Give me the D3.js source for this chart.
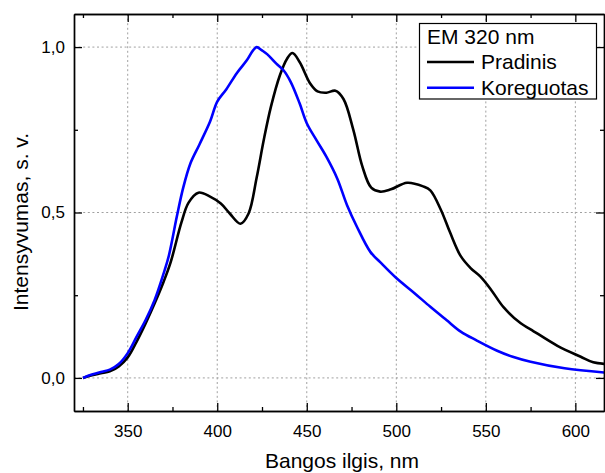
<!DOCTYPE html>
<html>
<head>
<meta charset="utf-8">
<script src="https://cdn.jsdelivr.net/npm/d3@7"></script>
<style>
  body { margin: 0; background: #fff; }
  svg { display: block; font-family: "Liberation Sans", Arial, sans-serif; }
</style>
</head>
<body>
<svg id="chart" width="605" height="473"></svg>
<script>
// ---- data ----
const wavelengthsPradinis = [325,330,335,340,345,350,355,360,365,370,374,380,384,389.5,396,402,407,413,417.5,422,426,430,435,439,442,446,452,456,461,466,470.5,476,481,486,491,497,506,515,519,525,530,536,541.5,547,553,560,569.5,575,590,603,610,617];
const valuesPradinis =      [0,0.008,0.014,0.02,0.035,0.062,0.11,0.165,0.225,0.29,0.35,0.47,0.53,0.56,0.548,0.527,0.497,0.466,0.497,0.605,0.72,0.82,0.915,0.965,0.982,0.955,0.889,0.866,0.862,0.868,0.843,0.75,0.64,0.575,0.563,0.57,0.59,0.579,0.567,0.507,0.44,0.368,0.332,0.306,0.266,0.213,0.165,0.147,0.097,0.064,0.047,0.042];

const wavelengthsKoreguotas = [325,330,335,340,345,350,355,360,365,370,373,377.4,381,385,390,396,400,405,411,416.5,420,422,425,428,433,437,441,446,450,455.5,461,467,472.5,478,485.5,491,500,510,519,528,536,545,556,565,575,594,617];
const valuesKoreguotas =      [0,0.01,0.018,0.025,0.042,0.075,0.125,0.175,0.235,0.315,0.37,0.487,0.575,0.648,0.705,0.775,0.835,0.872,0.922,0.96,0.99,1.0,0.99,0.978,0.95,0.93,0.895,0.83,0.77,0.718,0.668,0.603,0.522,0.457,0.381,0.35,0.302,0.257,0.215,0.175,0.14,0.113,0.083,0.064,0.049,0.029,0.016];

const xMajorTicks = [350,400,450,500,550,600];
const xMinorTicks = [325,375,425,475,525,575];
const yMajorTicks = [0,0.5,1.0];
const yMinorTicks = [0.25,0.75];
const yTickLabels = ["0,0","0,5","1,0"];

const seriesNames = ["Pradinis","Koreguotas"];
const seriesColors = ["#000000","#0000ff"];
const legendTitle = "EM 320 nm";
const xTitle = "Bangos ilgis, nm";
const yTitle = "Intensyvumas, s. v.";

// ---- layout ----
const L = 74, T = 14, R = 604, B = 411;
const svg = d3.select("#chart");
const x = d3.scaleLinear().domain([320, 616]).range([L, R]);
const y = d3.scaleLinear().domain([-0.1, 1.1]).range([B, T]);

// grid
const grid = svg.append("g").attr("stroke", "#a0a0a0").attr("stroke-width", 1).attr("stroke-dasharray", "2,2.6");
xMajorTicks.forEach(t => grid.append("line").attr("x1", x(t)).attr("x2", x(t)).attr("y1", T).attr("y2", B));
yMajorTicks.forEach(t => grid.append("line").attr("y1", y(t)).attr("y2", y(t)).attr("x1", L).attr("x2", R));

// clip
svg.append("clipPath").attr("id", "clip").append("rect").attr("x", L).attr("y", T).attr("width", R - L).attr("height", B - T);

const line = d3.line().x(d => x(d[0])).y(d => y(d[1])).curve(d3.curveCatmullRom.alpha(0.5));
const dataP = wavelengthsPradinis.map((w, i) => [w, valuesPradinis[i]]);
const dataK = wavelengthsKoreguotas.map((w, i) => [w, valuesKoreguotas[i]]);

const curves = svg.append("g").attr("clip-path", "url(#clip)");
curves.append("path").datum(dataP).attr("d", line).attr("fill", "none").attr("stroke", seriesColors[0]).attr("stroke-width", 2.6).attr("stroke-linejoin", "round");
curves.append("path").datum(dataK).attr("d", line).attr("fill", "none").attr("stroke", seriesColors[1]).attr("stroke-width", 2.6).attr("stroke-linejoin", "round");

// axes (ticks inside, mirrored)
const fmt = (d) => yTickLabels[yMajorTicks.indexOf(d)];
const axB = d3.axisBottom(x).tickValues(xMajorTicks).tickSizeInner(-8).tickSizeOuter(0).tickPadding(14).tickFormat(d3.format("d"));
const axBm = d3.axisBottom(x).tickValues(xMinorTicks).tickSizeInner(-4).tickSizeOuter(0).tickFormat("");
const axT = d3.axisTop(x).tickValues(xMajorTicks).tickSizeInner(-8).tickSizeOuter(0).tickFormat("");
const axTm = d3.axisTop(x).tickValues(xMinorTicks).tickSizeInner(-4).tickSizeOuter(0).tickFormat("");
const axL = d3.axisLeft(y).tickValues(yMajorTicks).tickSizeInner(-8).tickSizeOuter(0).tickPadding(9).tickFormat(fmt);
const axLm = d3.axisLeft(y).tickValues(yMinorTicks).tickSizeInner(-4).tickSizeOuter(0).tickFormat("");
const axR = d3.axisRight(y).tickValues(yMajorTicks).tickSizeInner(-8).tickSizeOuter(0).tickFormat("");
const axRm = d3.axisRight(y).tickValues(yMinorTicks).tickSizeInner(-4).tickSizeOuter(0).tickFormat("");

function styleAxis(g) {
  g.selectAll("path").attr("stroke", "#000").attr("stroke-width", 1.4);
  g.selectAll("line").attr("stroke", "#000").attr("stroke-width", 1.3);
  g.selectAll("text").attr("fill", "#000").style("font-size", "17px").style("font-family", "'Liberation Sans', Arial, sans-serif");
}
[[axB, `translate(0,${B})`], [axBm, `translate(0,${B})`], [axT, `translate(0,${T})`], [axTm, `translate(0,${T})`],
 [axL, `translate(${L},0)`], [axLm, `translate(${L},0)`], [axR, `translate(${R},0)`], [axRm, `translate(${R},0)`]]
 .forEach(([a, tr]) => svg.append("g").attr("transform", tr).call(a).call(styleAxis));

// titles
svg.append("text").attr("x", 342).attr("y", 468).attr("text-anchor", "middle").style("font-size", "21px").text(xTitle);
svg.append("text").attr("transform", "translate(28,222) rotate(-90)").attr("text-anchor", "middle").style("font-size", "21px").text(yTitle);

// legend
const lg = svg.append("g");
lg.append("rect").attr("x", 419.5).attr("y", 23.5).attr("width", 177).attr("height", 75.5).attr("fill", "#fff").attr("stroke", "#000").attr("stroke-width", 1.2);
lg.append("text").attr("x", 427).attr("y", 43.5).style("font-size", "21px").text(legendTitle);
seriesNames.forEach((n, i) => {
  const yy = 62 + i * 25.7;
  lg.append("line").attr("x1", 427).attr("x2", 474).attr("y1", yy).attr("y2", yy).attr("stroke", seriesColors[i]).attr("stroke-width", 2.6);
  lg.append("text").attr("x", 481).attr("y", yy + 7).style("font-size", "21px").text(n);
});
</script>
</body>
</html>
